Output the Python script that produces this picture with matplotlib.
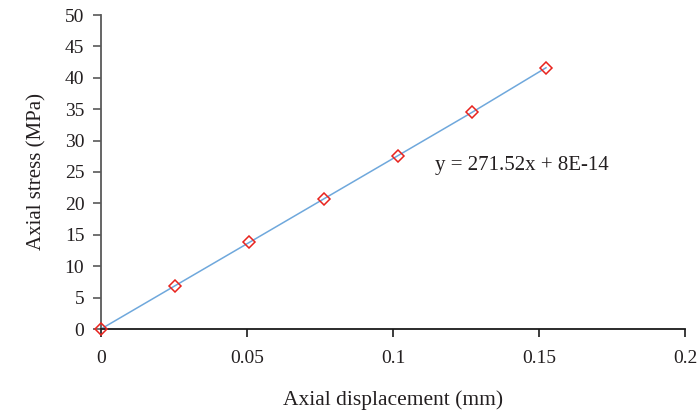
import matplotlib
matplotlib.use("Agg")
import matplotlib.pyplot as plt

# data
displacement = [0, 0.0254, 0.0508, 0.0762, 0.1016, 0.127, 0.1524]
stress = [0, 6.9, 13.79, 20.69, 27.58, 34.48, 41.6]
x_ticks = [0, 0.05, 0.1, 0.15, 0.2]
x_tick_labels = ["0", "0.05", "0.1", "0.15", "0.2"]
y_ticks = list(range(0, 55, 5))
fit_label = "y = 271.52x + 8E-14"

plt.rcParams['font.family'] = ['Liberation Serif', 'DejaVu Serif']
text_color = '#231f20'

fig = plt.figure(figsize=(6.99, 4.17), dpi=100)
ax = fig.add_axes([101 / 699, 1 - 329 / 417, (685 - 101) / 699, (329 - 15) / 417])

ax.plot(displacement, stress, color='#6FA8DC', linewidth=1.1, zorder=2)
ax.plot(displacement, stress, linestyle='none', marker='D', markersize=6.5,
        markerfacecolor='none', markeredgecolor='#E8231E', markeredgewidth=1.1,
        zorder=3, clip_on=False)

ax.text(0.1144, 26.1, fit_label, fontsize=15, color=text_color, ha='left', va='center')

ax.set_xlim(0, 0.2)
ax.set_ylim(0, 50)
ax.set_xticks(x_ticks)
ax.set_xticklabels(x_tick_labels)
ax.set_yticks(y_ticks)

for side in ['top', 'right']:
    ax.spines[side].set_visible(False)
ax.spines['left'].set_color('#595959')
ax.spines['bottom'].set_color('#1a1a1a')
ax.spines['left'].set_linewidth(1.3)
ax.spines['bottom'].set_linewidth(1.3)

ax.tick_params(axis='both', direction='out', width=1.2, length=6,
               labelsize=14, labelcolor=text_color)
ax.tick_params(axis='y', color='#595959', pad=6)
ax.tick_params(axis='x', color='#1a1a1a', pad=9)

ax.set_xlabel('Axial displacement (mm)', fontsize=15.5, color=text_color, labelpad=17)
ax.set_ylabel('Axial stress (MPa)', fontsize=15, color=text_color, labelpad=13)

fig.savefig('out.png', dpi=100)
